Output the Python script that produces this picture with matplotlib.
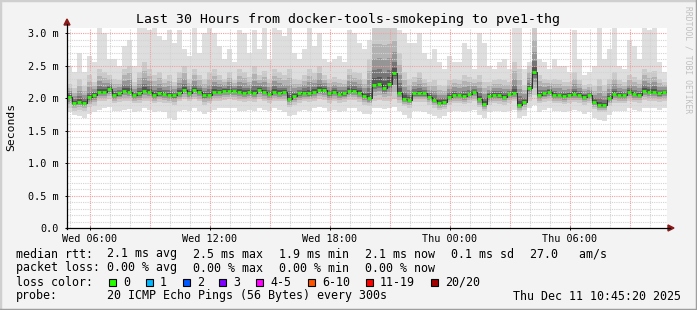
import numpy as np
import matplotlib
matplotlib.use("Agg")
import matplotlib.pyplot as plt
from matplotlib.patches import Rectangle, Polygon
from matplotlib.lines import Line2D

W, H = 697, 310
MONO = "DejaVu Sans Mono"

# time axis: hours since Wed 00:00, one sample every 15 minutes
start_hour = 4.85
step_hours = 0.25

# median rtt (ms)
median = [2.02, 1.93, 1.94, 1.93, 2.01, 2.05, 2.10, 2.10, 2.14, 2.04, 2.07, 2.11, 2.10, 2.04, 2.07, 2.11, 2.10, 2.05, 2.07, 2.06,
          2.04, 2.04, 2.08, 2.12, 2.08, 2.12, 2.09, 2.04, 2.05, 2.09, 2.10, 2.11, 2.11, 2.11, 2.09, 2.08, 2.09, 2.08, 2.12, 2.09,
          2.06, 2.10, 2.08, 2.09, 1.99, 2.03, 2.07, 2.08, 2.07, 2.10, 2.13, 2.12, 2.07, 2.09, 2.06, 2.07, 2.11, 2.11, 2.08, 2.03,
          2.00, 2.20, 2.22, 2.15, 2.21, 2.38, 2.08, 1.99, 1.97, 2.07, 2.07, 2.07, 2.02, 1.97, 1.93, 1.94, 2.02, 2.05, 2.04, 2.03,
          2.06, 2.09, 1.98, 1.91, 2.03, 2.05, 2.04, 2.02, 2.06, 2.08, 1.89, 1.94, 2.15, 2.40, 2.04, 2.07, 2.10, 2.04, 2.04, 2.03,
          2.05, 2.06, 2.05, 2.02, 2.04, 1.94, 1.89, 1.89, 2.00, 2.06, 2.05, 2.04, 2.09, 2.06, 2.05, 2.11, 2.10, 2.10, 2.07, 2.09]

# smoke: slowest ping
top = [2.50, 2.40, 2.70, 2.40, 2.65, 2.55, 3.10, 3.00, 2.60, 2.60, 2.50, 2.80, 2.90, 2.50, 3.10, 3.10, 3.05, 3.10, 2.95, 2.90,
       3.05, 2.85, 3.05, 2.75, 2.65, 3.10, 2.70, 3.00, 3.10, 3.00, 2.80, 2.60, 2.75, 2.55, 3.05, 3.00, 2.70, 3.05, 2.75, 3.10,
       2.60, 3.10, 3.05, 2.95, 3.10, 2.70, 2.60, 2.75, 3.10, 2.80, 3.00, 2.60, 2.55, 2.60, 2.65, 2.55, 3.05, 3.00, 2.85, 2.75,
       2.90, 3.10, 3.10, 3.10, 3.10, 3.10, 3.05, 3.00, 2.85, 2.85, 3.00, 2.70, 2.60, 2.75, 2.55, 2.45, 2.65, 2.55, 2.55, 2.85,
       2.75, 2.45, 3.00, 2.85, 2.50, 2.45, 2.55, 2.60, 2.45, 3.10, 3.10, 2.45, 2.55, 3.10, 2.60, 2.55, 2.45, 2.60, 2.50, 2.50,
       2.40, 3.05, 2.60, 2.35, 2.40, 2.50, 3.10, 2.60, 2.75, 3.10, 2.50, 2.45, 2.90, 2.80, 2.60, 3.10, 3.05, 3.10, 2.55, 2.40]

# smoke: upper edge of the denser pings
upper = [2.22, 2.15, 2.30, 2.18, 2.35, 2.25, 2.45, 2.40, 2.35, 2.30, 2.28, 2.45, 2.50, 2.25, 2.40, 2.55, 2.45, 2.35, 2.40, 2.30,
         2.35, 2.25, 2.40, 2.50, 2.30, 2.45, 2.35, 2.30, 2.40, 2.45, 2.35, 2.30, 2.40, 2.28, 2.45, 2.40, 2.32, 2.50, 2.35, 2.42,
         2.30, 2.45, 2.40, 2.35, 2.45, 2.30, 2.28, 2.35, 2.45, 2.38, 2.50, 2.35, 2.30, 2.32, 2.30, 2.28, 2.45, 2.40, 2.38, 2.30,
         2.60, 3.10, 3.10, 3.10, 3.10, 3.10, 2.70, 2.40, 2.30, 2.32, 2.40, 2.30, 2.25, 2.28, 2.20, 2.18, 2.28, 2.30, 2.28, 2.35,
         2.32, 2.30, 2.35, 2.25, 2.25, 2.28, 2.30, 2.28, 2.25, 2.55, 2.45, 2.20, 2.50, 3.10, 2.35, 2.30, 2.28, 2.30, 2.28, 2.25,
         2.25, 2.40, 2.28, 2.20, 2.22, 2.18, 2.30, 2.20, 2.30, 2.40, 2.28, 2.25, 2.35, 2.32, 2.28, 2.45, 2.40, 2.42, 2.30, 2.25]

# smoke: lower edge of the denser pings
lower = [1.85, 1.80, 1.82, 1.80, 1.86, 1.88, 1.95, 1.95, 1.98, 1.92, 1.94, 1.96, 1.95, 1.92, 1.93, 1.96, 1.95, 1.92, 1.94, 1.93,
         1.92, 1.90, 1.95, 1.98, 1.95, 1.98, 1.95, 1.90, 1.92, 1.96, 1.96, 1.97, 1.98, 1.97, 1.95, 1.94, 1.96, 1.94, 1.98, 1.95,
         1.93, 1.96, 1.95, 1.95, 1.86, 1.90, 1.93, 1.95, 1.94, 1.96, 1.98, 1.97, 1.93, 1.95, 1.93, 1.94, 1.97, 1.97, 1.94, 1.90,
         1.88, 1.95, 1.97, 1.95, 1.96, 1.98, 1.93, 1.87, 1.85, 1.94, 1.94, 1.94, 1.90, 1.85, 1.82, 1.83, 1.90, 1.92, 1.92, 1.91,
         1.93, 1.95, 1.86, 1.80, 1.90, 1.92, 1.91, 1.90, 1.93, 1.95, 1.78, 1.82, 1.96, 2.05, 1.92, 1.94, 1.96, 1.92, 1.92, 1.91,
         1.93, 1.94, 1.93, 1.90, 1.92, 1.83, 1.78, 1.78, 1.88, 1.93, 1.92, 1.92, 1.96, 1.94, 1.93, 1.97, 1.96, 1.96, 1.94, 1.96]

# smoke: fastest ping
bottom = [1.78, 1.74, 1.72, 1.70, 1.76, 1.78, 1.82, 1.84, 1.86, 1.80, 1.80, 1.82, 1.83, 1.78, 1.80, 1.84, 1.82, 1.78, 1.80, 1.79,
          1.70, 1.66, 1.80, 1.82, 1.80, 1.84, 1.80, 1.76, 1.78, 1.82, 1.84, 1.84, 1.85, 1.84, 1.80, 1.80, 1.82, 1.80, 1.84, 1.82,
          1.80, 1.84, 1.82, 1.78, 1.72, 1.74, 1.80, 1.82, 1.80, 1.84, 1.86, 1.84, 1.80, 1.82, 1.78, 1.80, 1.84, 1.84, 1.80, 1.76,
          1.76, 1.85, 1.84, 1.83, 1.85, 1.86, 1.80, 1.74, 1.70, 1.80, 1.80, 1.78, 1.76, 1.72, 1.70, 1.72, 1.78, 1.80, 1.80, 1.78,
          1.80, 1.82, 1.74, 1.70, 1.78, 1.80, 1.80, 1.78, 1.80, 1.82, 1.70, 1.72, 1.84, 1.90, 1.78, 1.82, 1.84, 1.80, 1.80, 1.78,
          1.80, 1.82, 1.80, 1.76, 1.78, 1.70, 1.66, 1.64, 1.74, 1.80, 1.80, 1.80, 1.84, 1.82, 1.80, 1.84, 1.84, 1.84, 1.82, 1.84]

xtick_hours = [6, 12, 18, 24, 30]
xtick_labels = ["Wed 06:00", "Wed 12:00", "Wed 18:00", "Thu 00:00", "Thu 06:00"]
ytick_vals = [0.0, 0.5, 1.0, 1.5, 2.0, 2.5, 3.0]
ytick_labels = ["0.0", "0.5 m", "1.0 m", "1.5 m", "2.0 m", "2.5 m", "3.0 m"]

title = "Last 30 Hours from docker-tools-smokeping to pve1-thg"
rtt_items = ["2.1 ms avg", "2.5 ms max", "1.9 ms min", "2.1 ms now", "0.1 ms sd", "27.0   am/s"]
loss_items = ["0.00 % avg", "0.00 % max", "0.00 % min", "0.00 % now"]
loss_labels = ["0", "1", "2", "3", "4-5", "6-10", "11-19", "20/20"]
loss_colors = ["#26ff00", "#00b8ff", "#0059ff", "#7e00ff", "#ff00ff", "#ff5500", "#ff0000", "#a10000"]
probe_text = "20 ICMP Echo Pings (56 Bytes) every 300s"
stamp = "Thu Dec 11 10:45:20 2025"


def fx(x):
    return x / W


def fy(y):
    return 1 - y / H


fig = plt.figure(figsize=(W / 100, H / 100), dpi=100, facecolor="#f3f3f3")
ax = fig.add_axes([fx(67), fy(228), 600 / W, 200 / H])
ax.set_facecolor("white")

n = len(median)
t = start_hour + step_hours * np.arange(n + 1)
ext = lambda a: np.append(a, a[-1])
med = ext(median)
up = ext(upper)
lo = ext(lower)

# smoke: outer pings light, shading darker towards the median
ax.fill_between(t, ext(bottom), ext(top), step="post", color="#dedede", lw=0, zorder=1)
shades = [(1.0, "#cacaca"), (0.7, "#b2b2b2"), (0.45, "#959595"), (0.25, "#757575"), (0.12, "#555555")]
for k, c in shades:
    ax.fill_between(t, med - (med - lo) * k, med + (up - med) * k, step="post", color=c, lw=0, zorder=1.2)

# median markers
ax.step(t, med, where="post", color="#303030", lw=0.7, zorder=3)
ax.hlines(median, t[:-1], t[:-1] + step_hours * 0.85, color="#26ff00", lw=2.0, zorder=4)

x0, x1 = start_hour, start_hour + 30
ax.set_xlim(x0, x1)
ax.set_ylim(0, 200 / 65)

# grid
dot = (0, (1, 1))
for h in np.arange(5, 35):
    c = "#f2a0a0" if h % 3 == 0 else "#d4d4d4"
    ax.axvline(h, color=c, lw=0.8, ls=dot, zorder=2.5)
for v in np.arange(1, 31) / 10:
    c = "#f2a0a0" if round(v * 10) % 5 == 0 else "#d4d4d4"
    ax.axhline(v, color=c, lw=0.8, ls=dot, zorder=2.5)

ax.set_xticks(xtick_hours, xtick_labels)
ax.set_yticks(ytick_vals, ytick_labels)
ax.tick_params(labelsize=7.3, length=3, width=0.7, direction="inout", pad=3)
ax.tick_params(axis="y", pad=4.5)
for lab in ax.get_xticklabels() + ax.get_yticklabels():
    lab.set_family(MONO)
for s in ax.spines.values():
    s.set_visible(False)

# axes with arrows
fig.add_artist(Line2D([fx(67), fx(67)], [fy(229), fy(24)], color="black", lw=0.9))
fig.add_artist(Line2D([fx(66), fx(670)], [fy(228), fy(228)], color="black", lw=0.9))
fig.add_artist(Polygon([(fx(64), fy(25)), (fx(70), fy(25)), (fx(67), fy(19))], closed=True,
                       color="#8b1a1a", transform=fig.transFigure))
fig.add_artist(Polygon([(fx(668), fy(225)), (fx(668), fy(231)), (fx(674), fy(228))], closed=True,
                       color="#8b1a1a", transform=fig.transFigure))

# texts
fig.text(0.5, fy(19), title, family=MONO, fontsize=9.5, ha="center", va="center")
fig.text(fx(11), fy(127), "Seconds", family=MONO, fontsize=8.2, rotation=90, ha="center", va="center")
fig.text(fx(688), fy(60), "RRDTOOL / TOBI OETIKER", family=MONO, fontsize=5.8, color="#c0c0c0",
         rotation=270, ha="center", va="center")

fs = 8.4
row_y = [254, 268, 282, 296]
col_x = [107, 193.3, 279.3, 365, 451, 530]
fig.text(fx(16), fy(row_y[0]), "median rtt:", family=MONO, fontsize=fs, va="center")
for x, s in zip(col_x, rtt_items):
    fig.text(fx(x), fy(row_y[0]), s, family=MONO, fontsize=fs, va="center")
fig.text(fx(16), fy(row_y[1]), "packet loss:", family=MONO, fontsize=fs, va="center")
for x, s in zip(col_x, loss_items):
    fig.text(fx(x), fy(row_y[1]), s, family=MONO, fontsize=fs, va="center")
fig.text(fx(16), fy(row_y[2]), "loss color:", family=MONO, fontsize=fs, va="center")
box_x = [109, 146, 183, 219, 256, 308, 366, 431]
for x, lab, c in zip(box_x, loss_labels, loss_colors):
    fig.add_artist(Rectangle((fx(x), fy(row_y[2] + 3.5)), 7 / W, 7 / H, facecolor=c,
                             edgecolor="black", lw=0.8, transform=fig.transFigure))
    fig.text(fx(x + 14), fy(row_y[2]), lab, family=MONO, fontsize=fs, va="center")
fig.text(fx(16), fy(row_y[3]), "probe:", family=MONO, fontsize=fs, va="center")
fig.text(fx(107), fy(row_y[3]), probe_text, family=MONO, fontsize=fs, va="center")
fig.text(fx(681), fy(row_y[3]), stamp, family=MONO, fontsize=fs, va="center", ha="right")

# 3d frame
fig.add_artist(Line2D([0, 0, 1], [0, 1, 1], color="#cfcfcf", lw=2.5, transform=fig.transFigure))
fig.add_artist(Line2D([0, 1, 1], [0, 0, 1], color="#9e9e9e", lw=2.5, transform=fig.transFigure))

fig.savefig("out.png", dpi=100, facecolor=fig.get_facecolor())
